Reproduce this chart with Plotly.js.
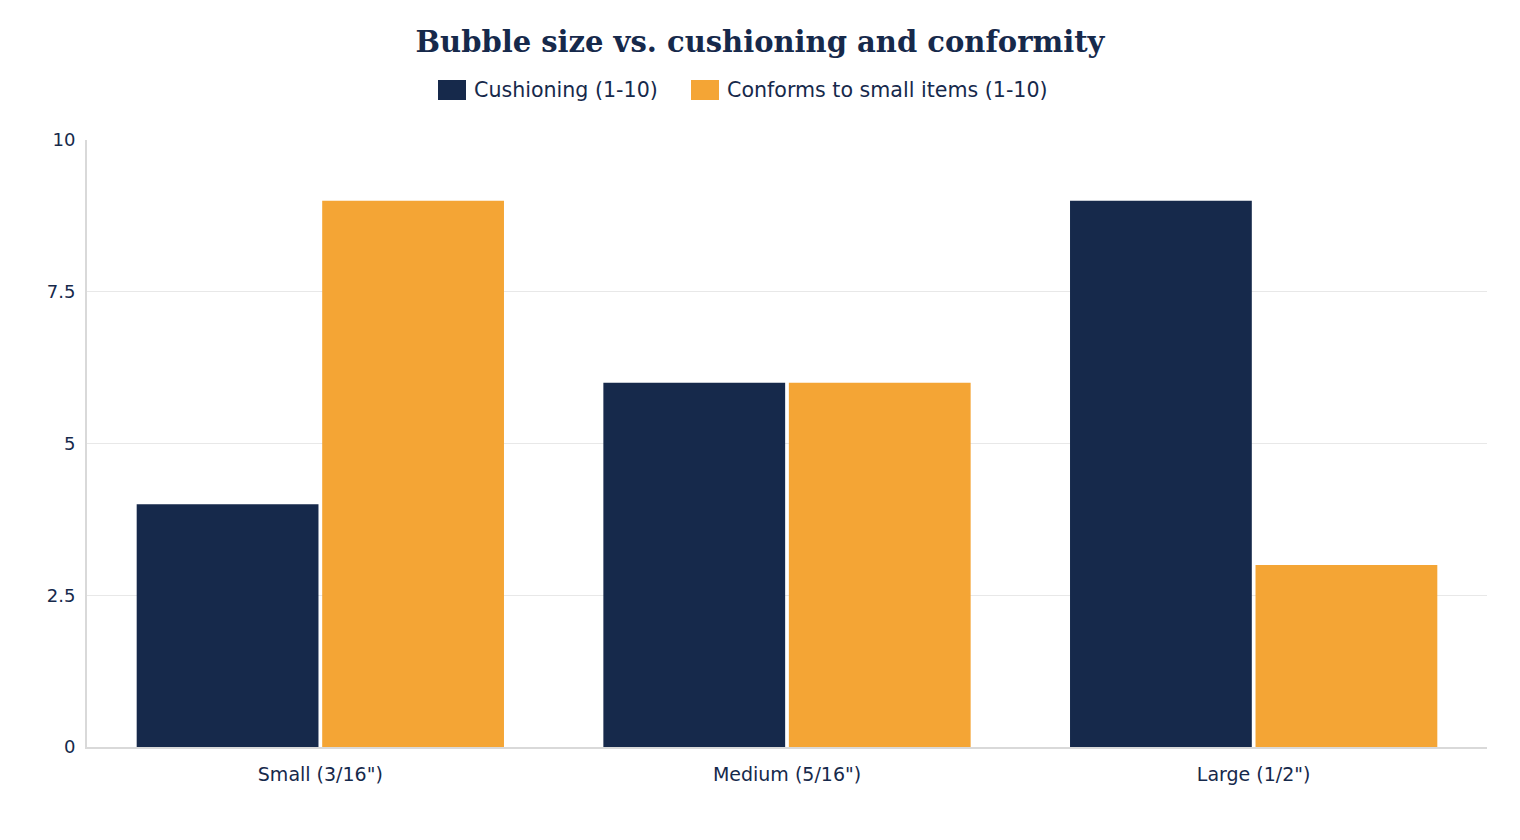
<!DOCTYPE html>
<html>
<head>
<meta charset="utf-8">
<script src="https://cdn.plot.ly/plotly-3.0.1.min.js"></script>
<style>
  html, body { margin: 0; padding: 0; background: #fff; }
  #chart { width: 1520px; height: 840px; }
</style>
</head>
<body>
<div id="chart"></div>
<script>
// bubble sizes and their scores
const sizes = ['Small (3/16")', 'Medium (5/16")', 'Large (1/2")'];
const cushioning = [4, 6, 9];
const conforms = [9, 6, 3];
const seriesNames = ['Cushioning (1-10)', 'Conforms to small items (1-10)'];
const yTicks = [0, 2.5, 5, 7.5, 10];

const navy = '#16294b';
const orange = '#f4a535';
const sans = '"DejaVu Sans", Inter, sans-serif';

const traces = [
    {
        type: 'bar',
        name: seriesNames[0],
        x: sizes,
        y: cushioning,
        marker: { color: navy },
        showlegend: false
    },
    {
        type: 'bar',
        name: seriesNames[1],
        x: sizes,
        y: conforms,
        marker: { color: orange },
        showlegend: false
    }
];

// legend drawn by hand so the swatches can be wide rectangles like the original
const legendItems = [
    { name: seriesNames[0], color: navy, x0: 438 },
    { name: seriesNames[1], color: orange, x0: 691 }
];
const shapes = legendItems.map(it => ({
    type: 'rect', xref: 'paper', yref: 'paper',
    x0: (it.x0 - 87) / 1400, x1: (it.x0 + 28 - 87) / 1400,
    y0: (747 - 100) / 607, y1: (747 - 80) / 607,
    fillcolor: it.color, line: { width: 0 }
}));
const annotations = legendItems.map(it => ({
    text: it.name, xref: 'paper', yref: 'paper',
    x: (it.x0 + 34 - 87) / 1400, xanchor: 'left',
    y: (747 - 90) / 607, yanchor: 'middle',
    showarrow: false,
    font: { family: sans, size: 20.6, color: navy }
}));

const layout = {
    width: 1520,
    height: 840,
    margin: { l: 87, r: 33, t: 140, b: 93 },
    paper_bgcolor: '#ffffff',
    plot_bgcolor: '#ffffff',
    font: { family: sans, color: navy, size: 18 },
    title: {
        text: '<b>Bubble size vs. cushioning and conformity</b>',
        font: { family: '"DejaVu Serif", Georgia, serif', size: 29, color: navy },
        x: 0.5,
        xanchor: 'center',
        y: 0.950,
        yanchor: 'middle'
    },
    showlegend: false,
    shapes: shapes,
    annotations: annotations,
    barmode: 'group',
    bargap: 0.205,
    bargroupgap: 0.02,
    xaxis: {
        type: 'category',
        showline: true,
        linecolor: '#d9d9d9',
        linewidth: 2,
        showgrid: false,
        ticks: '',
        ticklabelstandoff: 9,
        tickfont: { family: sans, size: 19, color: navy },
        fixedrange: true
    },
    yaxis: {
        range: [0, 10],
        tickvals: yTicks,
        ticktext: yTicks.map(v => String(v)),
        showline: true,
        linecolor: '#d9d9d9',
        linewidth: 2,
        showgrid: true,
        gridcolor: '#e8e8e8',
        gridwidth: 1,
        zeroline: false,
        ticks: '',
        ticklabelstandoff: 6,
        tickfont: { family: sans, size: 18, color: navy },
        fixedrange: true
    }
};

Plotly.newPlot('chart', traces, layout, { displayModeBar: false, staticPlot: true });
</script>
</body>
</html>
